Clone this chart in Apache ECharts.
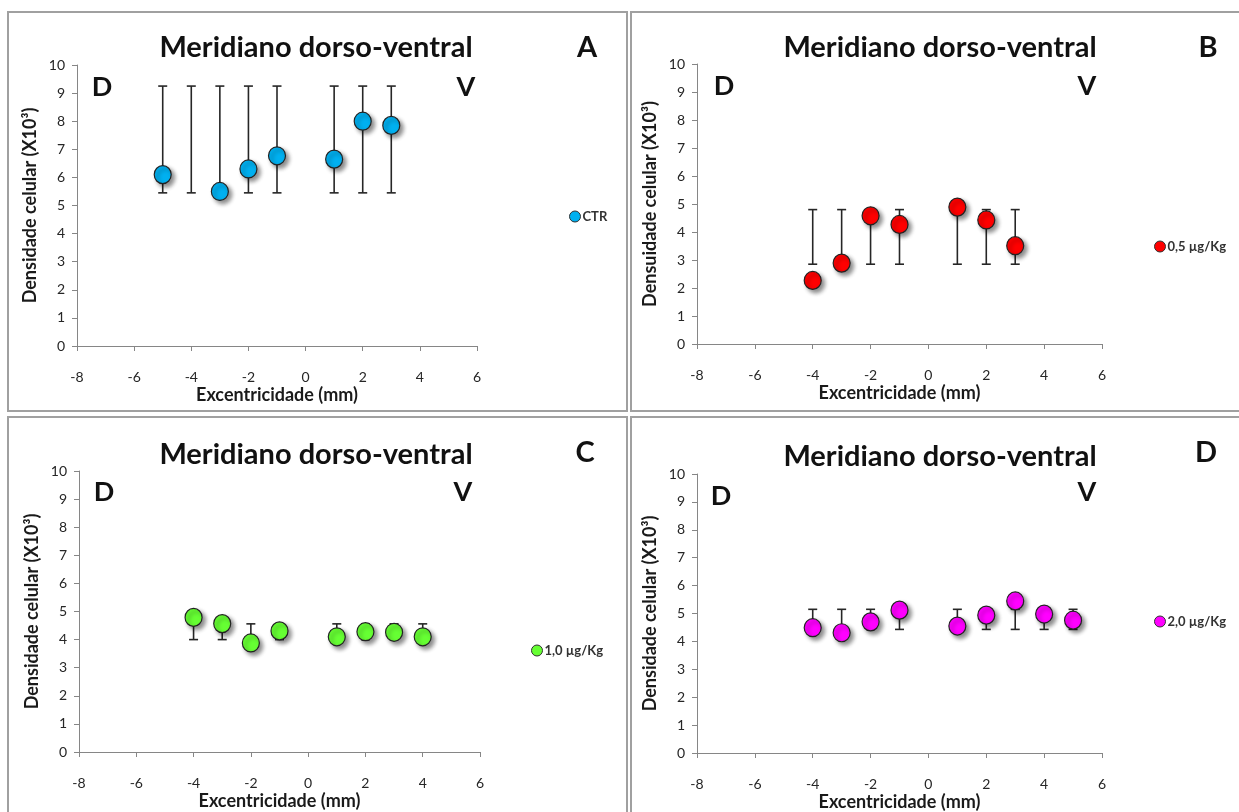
<!DOCTYPE html>
<html>
<head>
<meta charset="utf-8">
<script src="https://cdn.jsdelivr.net/npm/echarts@6/dist/echarts.min.js"></script>
<style>
html,body{margin:0;padding:0;background:#fff;}
#chart{width:1239px;height:812px;}
</style>
</head>
<body>
<div id="chart"></div>
<script>
// ---- data ----
const xTicks = [-8, -6, -4, -2, 0, 2, 4, 6];
const yTicks = [0, 1, 2, 3, 4, 5, 6, 7, 8, 9, 10];

const panelLetters = ['A', 'B', 'C', 'D'];
const panelTitle = 'Meridiano dorso-ventral';
const yNames = ['Densidade celular (X10³)', 'Densuidade celular (X10³)', 'Densidade celular (X10³)', 'Densidade celular (X10³)'];
const xName = 'Excentricidade (mm)';
const seriesNames = ['CTR', '0,5 µg/Kg', '1,0 µg/Kg', '2,0 µg/Kg'];
const seriesColors = ['#00B0F0', '#FF0000', '#66FF33', '#FF00FF'];

const xA = [-5, -4, -3, -2, -1, 1, 2, 3];
const yA = [6.1, null, 5.5, 6.3, 6.77, 6.65, 8.0, 7.85];
const lowA = [5.45, 5.45, 5.45, 5.45, 5.45, 5.45, 5.45, 5.45];
const highA = [9.25, 9.25, 9.25, 9.25, 9.25, 9.25, 9.25, 9.25];

const xB = [-4, -3, -2, -1, 1, 2, 3];
const yB = [2.27, 2.89, 4.58, 4.27, 4.89, 4.43, 3.51];
const lowB = [2.85, 2.85, 2.85, 2.85, 2.85, 2.85, 2.85];
const highB = [4.8, 4.8, 4.8, 4.8, 4.8, 4.8, 4.8];

const xC = [-4, -3, -2, -1, 1, 2, 3, 4];
const yC = [4.79, 4.57, 3.88, 4.31, 4.1, 4.28, 4.26, 4.1];
const lowC = [4.0, 4.0, 4.0, 4.0, 4.0, 4.0, 4.0, 4.0];
const highC = [4.56, 4.56, 4.56, 4.56, 4.56, 4.56, 4.56, 4.56];

const xD = [-4, -3, -2, -1, 1, 2, 3, 4, 5];
const yD = [4.49, 4.31, 4.7, 5.12, 4.55, 4.94, 5.45, 4.98, 4.76];
const lowD = [4.43, 4.43, 4.43, 4.43, 4.43, 4.43, 4.43, 4.43, 4.43];
const highD = [5.15, 5.15, 5.15, 5.15, 5.15, 5.15, 5.15, 5.15, 5.15];

const panels = [
  {x: xA, y: yA, low: lowA, high: highA},
  {x: xB, y: yB, low: lowB, high: highB},
  {x: xC, y: yC, low: lowC, high: highC},
  {x: xD, y: yD, low: lowD, high: highD}
];

// ---- layout ----
const FONT = '"Lato", "Open Sans", sans-serif';
const grids = [
  {left: 77, top: 65, width: 400, height: 281},
  {left: 697, top: 64, width: 405, height: 280},
  {left: 79, top: 471, width: 401, height: 281},
  {left: 697, top: 474, width: 405, height: 279}
];
const boxes = [
  {x: 8, y: 12, w: 619, h: 399},
  {x: 631, y: 12, w: 620, h: 399},
  {x: 8, y: 417, w: 619, h: 400},
  {x: 631, y: 417, w: 620, h: 400}
];
const titlePos = [[316, 48], [940, 48], [316, 455], [940, 457]];
const letterPos = [[587, 48], [1208, 48], [585, 453], [1206, 453]];
const dPos = [[102, 87], [724, 86], [104, 492], [721, 496]];
const vPos = [[466, 87], [1087, 86], [463, 492], [1087, 492]];
const legendPos = [[564, 205], [1149, 235], [526, 639], [1149, 610]];

const option = {
  animation: false,
  backgroundColor: '#fff',
  textStyle: {fontFamily: FONT},
  grid: grids.map(g => Object.assign({containLabel: false}, g)),
  xAxis: grids.map((g, i) => ({
    type: 'value', gridIndex: i, min: -8, max: 6, interval: 2,
    splitLine: {show: false},
    axisLine: {show: true, onZero: false, lineStyle: {color: '#868686', width: 1}},
    axisTick: {show: true, length: 5, lineStyle: {color: '#868686'}},
    axisLabel: {margin: 24, fontSize: 14, color: '#262626', fontFamily: FONT,
      formatter: v => (xTicks.indexOf(v) >= 0 ? String(v) : '')},
    name: xName, nameLocation: 'middle', nameGap: 40,
    nameTextStyle: {fontSize: 18, fontWeight: 'bold', color: '#1a1a1a', fontFamily: FONT}
  })),
  yAxis: grids.map((g, i) => ({
    type: 'value', gridIndex: i, min: 0, max: 10, interval: 1,
    splitLine: {show: false},
    axisLine: {show: true, onZero: false, lineStyle: {color: '#868686', width: 1}},
    axisTick: {show: true, length: 5, lineStyle: {color: '#868686'}},
    axisLabel: {margin: 12, fontSize: 14, color: '#262626', fontFamily: FONT,
      formatter: v => (yTicks.indexOf(v) >= 0 ? String(v) : '')},
    name: yNames[i], nameLocation: 'middle', nameGap: 38, nameRotate: 90,
    nameTextStyle: {fontSize: 18, fontWeight: 'bold', color: '#1a1a1a', fontFamily: FONT}
  })),
  legend: panels.map((p, i) => ({
    data: [seriesNames[i]], left: legendPos[i][0], top: legendPos[i][1],
    orient: 'vertical', icon: 'circle', itemWidth: 11, itemHeight: 11,
    textStyle: {fontSize: 13, fontWeight: 'bold', color: '#333', fontFamily: FONT, padding: [0, 0, 0, -3]},
    itemStyle: {borderColor: '#333', borderWidth: 1, shadowBlur: 0, shadowOffsetX: 0, shadowOffsetY: 0}
  })),
  graphic: [].concat(
    boxes.map(b => ({
      type: 'rect', shape: {x: b.x, y: b.y, width: b.w, height: b.h},
      style: {fill: 'none', stroke: '#a0a0a0', lineWidth: 2}, z: 0, silent: true
    })),
    titlePos.map(p => ({
      type: 'text', style: {x: p[0], y: p[1], text: panelTitle, align: 'center', verticalAlign: 'middle',
        font: 'bold 29px ' + FONT, fill: '#111'}
    })),
    letterPos.map((p, i) => ({
      type: 'text', style: {x: p[0], y: p[1], text: panelLetters[i], align: 'center', verticalAlign: 'middle',
        font: 'bold 29px ' + FONT, fill: '#111'}
    })),
    dPos.map(p => ({
      type: 'text', style: {x: p[0], y: p[1], text: 'D', align: 'center', verticalAlign: 'middle',
        font: 'bold 27px ' + FONT, fill: '#111'}
    })),
    vPos.map(p => ({
      type: 'text', style: {x: p[0], y: p[1], text: 'V', align: 'center', verticalAlign: 'middle',
        font: 'bold 27px ' + FONT, fill: '#111'}
    }))
  ),
  series: [].concat(
    panels.map((p, i) => ({
      type: 'custom', name: 'err' + i, xAxisIndex: i, yAxisIndex: i, z: 2,
      data: p.x.map((x, k) => [x, p.low[k], p.high[k]]),
      renderItem: function (params, api) {
        const lo = api.coord([api.value(0), api.value(1)]);
        const hi = api.coord([api.value(0), api.value(2)]);
        const hw = 4.5;
        const st = {stroke: '#262626', lineWidth: 1.6};
        return {
          type: 'group',
          children: [
            {type: 'line', shape: {x1: lo[0], y1: lo[1], x2: hi[0], y2: hi[1]}, style: st},
            {type: 'line', shape: {x1: lo[0] - hw, y1: lo[1], x2: lo[0] + hw, y2: lo[1]}, style: st},
            {type: 'line', shape: {x1: hi[0] - hw, y1: hi[1], x2: hi[0] + hw, y2: hi[1]}, style: st}
          ]
        };
      }
    })),
    panels.map((p, i) => ({
      type: 'scatter', name: seriesNames[i], xAxisIndex: i, yAxisIndex: i, z: 3,
      symbol: 'circle', symbolSize: [17, 18],
      data: p.x.map((x, k) => [x, p.y[k]]).filter(d => d[1] !== null),
      itemStyle: {color: seriesColors[i], borderColor: '#222', borderWidth: 1.2, opacity: 1,
        shadowBlur: 4, shadowOffsetX: 3, shadowOffsetY: 3, shadowColor: 'rgba(0,0,0,0.45)'}
    }))
  )
};

const chart = echarts.init(document.getElementById('chart'), null, {renderer: 'canvas'});
chart.setOption(option);
</script>
</body>
</html>
